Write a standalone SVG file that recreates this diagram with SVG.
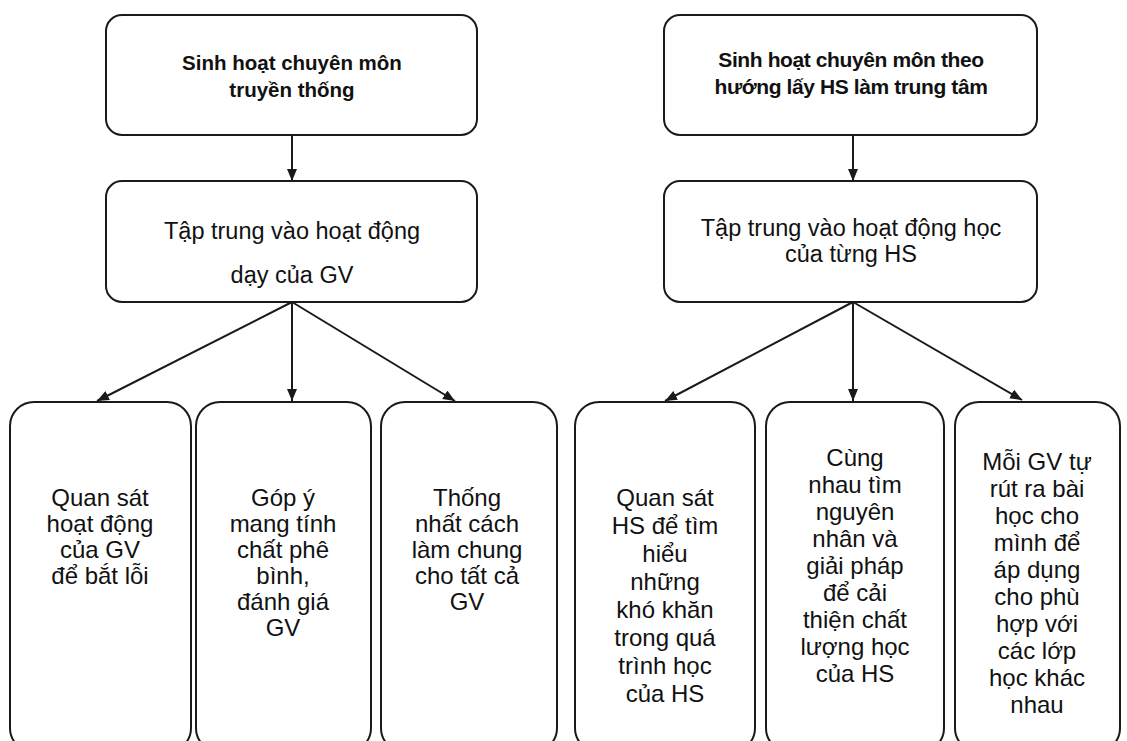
<svg xmlns="http://www.w3.org/2000/svg" width="1127" height="741" viewBox="0 0 1127 741">
<defs>
<marker id="arr" viewBox="0 0 12 10" refX="12" refY="5" markerWidth="12" markerHeight="10" markerUnits="userSpaceOnUse" orient="auto">
<path d="M0,0 L12,5 L0,10 z" fill="#1a1a1a"/>
</marker>
</defs>
<style>
.box{fill:#fff;stroke:#1a1a1a;stroke-width:2}
.t{font-family:"Liberation Sans",Arial,sans-serif;fill:#111;text-anchor:middle}
.title{font-size:20.5px;font-weight:bold}
.titleR{font-size:21px;font-weight:bold;letter-spacing:-0.4px}
.mid{font-size:23.5px}
.leaf{font-size:24px}
.con{stroke:#1a1a1a;stroke-width:2;fill:none;marker-end:url(#arr)}
</style>
<rect width="1127" height="741" fill="#fff"/>
<g id="n-left-top">
<rect class="box" x="106" y="15" width="371" height="120" rx="16"/>
<text class="t title" x="292" y="70">Sinh hoạt chuyên môn</text>
<text class="t title" x="292" y="97">truyền thống</text>
</g>
<g id="n-right-top">
<rect class="box" x="664" y="15" width="373" height="120" rx="16"/>
<text class="t titleR" x="851" y="67">Sinh hoạt chuyên môn theo</text>
<text class="t titleR" x="851" y="94">hướng lấy HS làm trung tâm</text>
</g>
<g id="n-left-mid">
<rect class="box" x="106" y="181" width="371" height="121" rx="16"/>
<text class="t mid" x="292" y="239">Tập trung vào hoạt động</text>
<text class="t mid" x="292" y="283">dạy của GV</text>
</g>
<g id="n-right-mid">
<rect class="box" x="664" y="181" width="373" height="121" rx="16"/>
<text class="t mid" x="851" y="236">Tập trung vào hoạt động học</text>
<text class="t mid" x="851" y="262">của từng HS</text>
</g>
<g id="n-l1">
<rect class="box" x="10" y="402" width="181" height="350" rx="24"/>
<text class="t leaf" x="100" y="506">Quan sát</text>
<text class="t leaf" x="100" y="532">hoạt động</text>
<text class="t leaf" x="100" y="558">của GV</text>
<text class="t leaf" x="100" y="584">để bắt lỗi</text>
</g>
<g id="n-l2">
<rect class="box" x="196" y="402" width="175" height="350" rx="24"/>
<text class="t leaf" x="283" y="506">Góp ý</text>
<text class="t leaf" x="283" y="532">mang tính</text>
<text class="t leaf" x="283" y="558">chất phê</text>
<text class="t leaf" x="283" y="584">bình,</text>
<text class="t leaf" x="283" y="610">đánh giá</text>
<text class="t leaf" x="283" y="636">GV</text>
</g>
<g id="n-l3">
<rect class="box" x="381" y="402" width="176" height="350" rx="24"/>
<text class="t leaf" x="467" y="506">Thống</text>
<text class="t leaf" x="467" y="532">nhất cách</text>
<text class="t leaf" x="467" y="558">làm chung</text>
<text class="t leaf" x="467" y="584">cho tất cả</text>
<text class="t leaf" x="467" y="610">GV</text>
</g>
<g id="n-r1">
<rect class="box" x="575" y="402" width="180" height="350" rx="24"/>
<text class="t leaf" x="665" y="506">Quan sát</text>
<text class="t leaf" x="665" y="534">HS để tìm</text>
<text class="t leaf" x="665" y="562">hiểu</text>
<text class="t leaf" x="665" y="590">những</text>
<text class="t leaf" x="665" y="618">khó khăn</text>
<text class="t leaf" x="665" y="646">trong quá</text>
<text class="t leaf" x="665" y="674">trình học</text>
<text class="t leaf" x="665" y="702">của HS</text>
</g>
<g id="n-r2">
<rect class="box" x="766" y="402" width="178" height="350" rx="24"/>
<text class="t leaf" x="855" y="466">Cùng</text>
<text class="t leaf" x="855" y="493">nhau tìm</text>
<text class="t leaf" x="855" y="520">nguyên</text>
<text class="t leaf" x="855" y="547">nhân và</text>
<text class="t leaf" x="855" y="574">giải pháp</text>
<text class="t leaf" x="855" y="601">để cải</text>
<text class="t leaf" x="855" y="628">thiện chất</text>
<text class="t leaf" x="855" y="655">lượng học</text>
<text class="t leaf" x="855" y="682">của HS</text>
</g>
<g id="n-r3">
<rect class="box" x="955" y="402" width="165" height="350" rx="24"/>
<text class="t leaf" x="1037" y="470">Mỗi GV tự</text>
<text class="t leaf" x="1037" y="497">rút ra bài</text>
<text class="t leaf" x="1037" y="524">học cho</text>
<text class="t leaf" x="1037" y="551">mình để</text>
<text class="t leaf" x="1037" y="578">áp dụng</text>
<text class="t leaf" x="1037" y="605">cho phù</text>
<text class="t leaf" x="1037" y="632">hợp với</text>
<text class="t leaf" x="1037" y="659">các lớp</text>
<text class="t leaf" x="1037" y="686">học khác</text>
<text class="t leaf" x="1037" y="713">nhau</text>
</g>
<g id="connectors">
<line class="con" x1="292" y1="135" x2="292" y2="181"/>
<line class="con" x1="853" y1="135" x2="853" y2="181"/>
<line class="con" x1="292" y1="302" x2="97" y2="401"/>
<line class="con" x1="292" y1="302" x2="292" y2="401"/>
<line class="con" x1="292" y1="302" x2="455" y2="401"/>
<line class="con" x1="853" y1="302" x2="665" y2="401"/>
<line class="con" x1="853" y1="302" x2="853" y2="401"/>
<line class="con" x1="853" y1="302" x2="1022" y2="400"/>
</g>
</svg>
